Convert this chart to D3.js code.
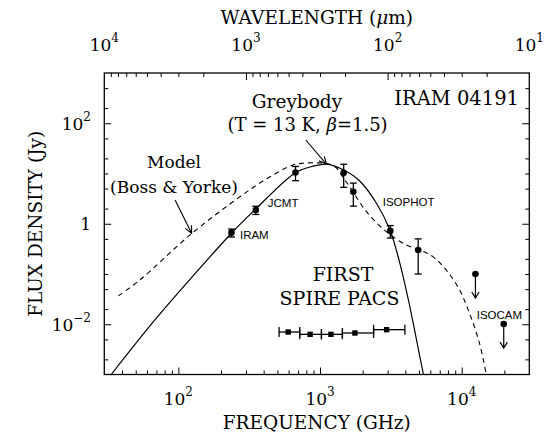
<!DOCTYPE html>
<html><head><meta charset="utf-8">
<script src="https://cdn.jsdelivr.net/npm/d3@7"></script>
<style>body{margin:0;background:#fff}</style>
</head><body><svg id="c" width="550" height="437"></svg>
<script>
// ---------------- data (frequency in GHz, flux density in Jy) ----------------
const detFreq = [237, 352, 671, 1469, 1718, 3133, 4930];
const detFlux = [0.665, 1.88, 10.5, 10.3, 4.34, 0.72, 0.30];
const detErr  = [0.12, 0.35, 3.3, 5.0, 2.1, 0.2, 0.2];

const limFreq = [12500, 19800];
const limFlux = [0.10, 0.0101];

const firstFreq = [596, 851, 1194, 1763, 2951];
const firstFlux = [0.0070, 0.0063, 0.0063, 0.0067, 0.0078];
const firstLo   = [514, 719, 1023, 1438, 2388];
const firstHi   = [719, 1023, 1438, 2388, 3972];

const greyFreq = [33.6, 68.5, 142, 237, 352, 671, 900, 1109, 1469, 1905, 2496, 3133, 3641, 4282, 4878, 5370];
const greyFlux = [0.001, 0.0123, 0.131, 0.648, 1.97, 10.4, 14.0, 15.4, 11.7, 7.1, 2.59, 0.72, 0.173, 0.0241, 0.00386, 0.001];

const modelFreq = [37.8, 53.7, 121, 272, 443, 646, 760, 946, 1150, 1300, 1416, 1619, 2125, 2939, 4055, 5035, 6252, 7762, 9638, 11330, 13330, 14860];
const modelFlux = [0.0369, 0.0767, 0.600, 3.45, 8.6, 14.8, 16.0, 16.3, 15.5, 13.0, 9.3, 5.45, 1.74, 0.697, 0.379, 0.302, 0.222, 0.121, 0.0486, 0.0168, 0.00426, 0.00105];

const freqLabels = [100, 1000, 10000];
const waveLabels = [10000, 1000, 100, 10];
const fluxLabels = [0.01, 1, 100];

// ---------------- layout ----------------
const L = 104.3, R = 529.3, T = 73, B = 374.5;
const SERIF = "'DejaVu Serif', serif", SANS = "'Liberation Sans', Arial, sans-serif";
const svg = d3.select("#c");

const x  = d3.scaleLog().domain([30, 30000]).range([L, R]);
const xw = d3.scaleLog().domain([1e4, 10]).range([L, R]);
const y  = d3.scaleLog().domain([1e-3, 1e3]).range([B, T]);

const inDom = (s) => (v) => { const d = s.domain(); const lo = Math.min(d[0], d[1]), hi = Math.max(d[0], d[1]); return v > lo * 1.0001 && v < hi * 0.9999; };
const isPow = v => Math.abs(Math.log10(v) - Math.round(Math.log10(v))) < 1e-6;

const freqMinor = x.ticks().filter(inDom(x)).filter(v => !isPow(v));
const freqMajor = x.ticks().filter(inDom(x)).filter(isPow);
const waveMinor = xw.ticks().filter(inDom(xw)).filter(v => !isPow(v));
const waveMajor = xw.ticks().filter(inDom(xw)).filter(isPow);
const fluxAll = y.ticks().filter(inDom(y)).filter(v => { const m = Math.round(v / Math.pow(10, Math.floor(Math.log10(v) + 1e-9))); return m === 1 || m === 2 || m === 5; });
const fluxMajor = fluxAll.filter(v => fluxLabels.some(l => Math.abs(l - v) / l < 1e-6));
const fluxMinor = fluxAll.filter(v => !fluxMajor.includes(v));

function ticks(gen, scale, vals, len, tr) {
  svg.append("g").attr("transform", tr)
    .call(gen(scale).tickValues(vals).tickSize(-len).tickFormat(""))
    .call(g => g.select(".domain").remove())
    .call(g => g.selectAll("line").attr("stroke", "#000").attr("stroke-width", 1));
}
ticks(d3.axisBottom, x, freqMinor, 4, `translate(0,${B})`);
ticks(d3.axisBottom, x, freqMajor, 7, `translate(0,${B})`);
ticks(d3.axisTop, xw, waveMinor, 4, `translate(0,${T})`);
ticks(d3.axisTop, xw, waveMajor, 7, `translate(0,${T})`);
ticks(d3.axisLeft, y, fluxMinor, 4, `translate(${L},0)`);
ticks(d3.axisLeft, y, fluxMajor, 7, `translate(${L},0)`);
ticks(d3.axisRight, y, fluxMinor, 4, `translate(${R},0)`);
ticks(d3.axisRight, y, fluxMajor, 7, `translate(${R},0)`);

svg.append("rect").attr("x", L).attr("y", T).attr("width", R - L).attr("height", B - T)
  .attr("fill", "none").attr("stroke", "#000").attr("stroke-width", 1.3);

// power-of-ten labels
function powLabel(xp, yp, v, anchor) {
  const t = svg.append("text").attr("x", xp).attr("y", yp).attr("text-anchor", anchor)
    .attr("font-family", SERIF).attr("font-size", 17).attr("fill", "#000");
  const e = Math.round(Math.log10(v));
  if (e === 0) { t.text("1"); return; }
  t.append("tspan").text("10");
  t.append("tspan").attr("dy", -9).attr("font-size", 12).text(e < 0 ? "\u2212" + (-e) : String(e));
}
freqLabels.forEach(v => powLabel(x(v), 405, v, "middle"));
waveLabels.forEach(v => powLabel(xw(v), 51, v, "middle"));
fluxLabels.forEach(v => powLabel(91, y(v) + 6.5, v, "end"));

// axis titles
const tx = (xp, yp, s, size, fam, anchor) => svg.append("text").attr("x", xp).attr("y", yp)
  .attr("font-family", fam || SERIF).attr("font-size", size).attr("text-anchor", anchor || "middle").attr("fill", "#000").text(s);
const wt = svg.append("text").attr("x", (L + R) / 2).attr("y", 24).attr("text-anchor", "middle")
  .attr("font-family", SERIF).attr("font-size", 18.5).attr("fill", "#000");
wt.append("tspan").text("WAVELENGTH (");
wt.append("tspan").attr("font-style", "italic").text("\u03bc");
wt.append("tspan").text("m)");
tx((L + R) / 2, 429, "FREQUENCY (GHz)", 18.5);
svg.append("text").attr("transform", `translate(41.5,${(T + B) / 2}) rotate(-90)`).attr("text-anchor", "middle")
  .attr("font-family", SERIF).attr("font-size", 18.5).attr("fill", "#000").text("FLUX DENSITY (Jy)");

// curves
svg.append("clipPath").attr("id", "pa").append("rect").attr("x", L).attr("y", T).attr("width", R - L).attr("height", B - T);
const line = d3.line().x(d => x(d[0])).y(d => y(d[1])).curve(d3.curveCatmullRom.alpha(0.5));
svg.append("path").attr("clip-path", "url(#pa)").attr("d", line(greyFreq.map((f, i) => [f, greyFlux[i]])))
  .attr("fill", "none").attr("stroke", "#000").attr("stroke-width", 1.2);
svg.append("path").attr("clip-path", "url(#pa)").attr("d", line(modelFreq.map((f, i) => [f, modelFlux[i]])))
  .attr("fill", "none").attr("stroke", "#000").attr("stroke-width", 1.1).attr("stroke-dasharray", "5,4");

// detections with error bars
const cap = 3.5;
detFreq.forEach((f, i) => {
  const cx = x(f), y1 = y(detFlux[i] + detErr[i]), y2 = y(detFlux[i] - detErr[i]);
  const g = svg.append("g").attr("stroke", "#000").attr("stroke-width", 1.3);
  g.append("line").attr("x1", cx).attr("x2", cx).attr("y1", y1).attr("y2", y2);
  g.append("line").attr("x1", cx - cap).attr("x2", cx + cap).attr("y1", y1).attr("y2", y1);
  g.append("line").attr("x1", cx - cap).attr("x2", cx + cap).attr("y1", y2).attr("y2", y2);
  svg.append("circle").attr("cx", cx).attr("cy", y(detFlux[i])).attr("r", 3.3).attr("fill", "#000");
});

// arrows helper
function arrowHead(x1, y1, x2, y2, len, ang) {
  const a = Math.atan2(y2 - y1, x2 - x1);
  const p = (s) => [x2 - len * Math.cos(a + s * ang), y2 - len * Math.sin(a + s * ang)];
  const l = p(1), r = p(-1);
  return `M${l[0]},${l[1]}L${x2},${y2}L${r[0]},${r[1]}`;
}
function arrow(x1, y1, x2, y2) {
  svg.append("path").attr("d", `M${x1},${y1}L${x2},${y2}` + arrowHead(x1, y1, x2, y2, 8, 0.45))
    .attr("fill", "none").attr("stroke", "#000").attr("stroke-width", 1.1);
}

// upper limits
limFreq.forEach((f, i) => {
  const cx = x(f), cy = y(limFlux[i]);
  svg.append("circle").attr("cx", cx).attr("cy", cy).attr("r", 3.3).attr("fill", "#000");
  svg.append("path").attr("d", `M${cx},${cy}L${cx},${cy + 24}` + arrowHead(cx, cy, cx, cy + 24, 7, 0.55))
    .attr("fill", "none").attr("stroke", "#000").attr("stroke-width", 1.2);
});

// FIRST SPIRE / PACS sensitivities
firstFreq.forEach((f, i) => {
  const cy = y(firstFlux[i]);
  const g = svg.append("g").attr("stroke", "#000").attr("stroke-width", 1.3);
  g.append("line").attr("x1", x(firstLo[i])).attr("x2", x(firstHi[i])).attr("y1", cy).attr("y2", cy);
  g.append("line").attr("x1", x(firstLo[i])).attr("x2", x(firstLo[i])).attr("y1", cy - 5).attr("y2", cy + 5);
  g.append("line").attr("x1", x(firstHi[i])).attr("x2", x(firstHi[i])).attr("y1", cy - 5).attr("y2", cy + 5);
  svg.append("rect").attr("x", x(f) - 2.7).attr("y", cy - 2.7).attr("width", 5.4).attr("height", 5.4).attr("fill", "#000");
});

// annotations
tx(297, 108, "Greybody", 18.5);
const gb = svg.append("text").attr("x", 307.5).attr("y", 131).attr("text-anchor", "middle")
  .attr("font-family", SERIF).attr("font-size", 18).attr("fill", "#000");
gb.append("tspan").text("(T = 13 K, ");
gb.append("tspan").attr("font-style", "italic").text("\u03b2");
gb.append("tspan").text("=1.5)");
arrow(x(793), y(46.4), x(1109), y(15.4));

tx(519, 105, "IRAM 04191", 19.5, SERIF, "end");
tx(174, 168, "Model", 17);
tx(174, 193, "(Boss & Yorke)", 17);
arrow(x(94.8), y(2.97), x(124), y(0.646));

tx(343, 281, "FIRST", 19);
tx(339.5, 305, "SPIRE PACS", 19);

tx(x(detFreq[0]) + 8.5, y(detFlux[0]) + 6, "IRAM", 11.5, SANS, "start");
tx(x(detFreq[1]) + 12, y(detFlux[1]) - 3, "JCMT", 11.5, SANS, "start");
tx(382.7, 206, "ISOPHOT", 11.5, SANS, "start");
tx(476.7, 318.5, "ISOCAM", 11.5, SANS, "start");
</script></body></html>
